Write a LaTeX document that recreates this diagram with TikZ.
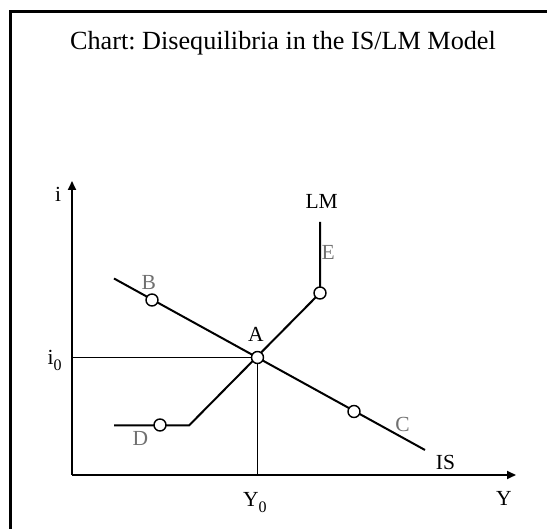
\documentclass[tikz,border=0pt]{standalone}
\usepackage{fontspec}
\setmainfont{Liberation Serif}
\usetikzlibrary{arrows.meta,positioning}
\definecolor{ISLMgray}{HTML}{707070}
\newcommand{\lowsub}[1]{\raisebox{-6pt}{\fontsize{16}{18}\selectfont #1}}
\frenchspacing

\tikzset{
  curve/.style={line width=2pt},
  guide/.style={line width=0.9pt},
  axis/.style={line width=1.8pt,-{Triangle[length=9pt,width=8pt]}},
  eqpt/.style={circle,draw,fill=white,line width=1.4pt,minimum size=12pt,inner sep=0pt},
  lbl/.style={inner sep=0pt,anchor=base,font=\fontsize{21.5}{24}\selectfont},
  dlbl/.style={lbl,text=ISLMgray},
}

\begin{document}
\begin{tikzpicture}[x=1pt,y=-1pt]
  \useasboundingbox (0,0) rectangle (547,529);
  % frame
  \draw[line width=2.5pt] (10.5,529) -- (10.5,11.5) -- (547,11.5);
  \node[inner sep=0pt,anchor=base,font=\fontsize{26.2}{30}\selectfont] (title) at (283,49.3) {Chart: Disequilibria in the IS/LM Model};

  % axes
  \coordinate (O) at (72,475);
  \coordinate (itop) at (72,181);
  \coordinate (yend) at (516,475);
  \coordinate (i0pt) at (72,357.5);
  \coordinate (y0pt) at (257.5,475);
  \draw[axis] (O) -- (itop);
  \draw[axis] (O) -- (yend);

  % IS and LM curves
  \coordinate (is1) at (114,278.5);
  \coordinate (is2) at (425,450);
  \coordinate (lm1) at (114,425.5);
  \coordinate (lmk) at (189,425.5);
  \coordinate (lmE) at (320,293);
  \coordinate (lm2) at (320,222);
  \coordinate (eq) at (257.5,357.5);
  \draw[curve] (is1) -- (is2);
  \draw[curve] (lm1) -- (lmk) -- (lmE) -- (lm2);
  \draw[guide] (i0pt) -- (eq) -- (y0pt);

  % points
  \node[eqpt] (A) at (eq) {};
  \node[eqpt] (B) at (152,300) {};
  \node[eqpt] (C) at (354,411.5) {};
  \node[eqpt] (D) at (160,425) {};
  \node[eqpt] (E) at (lmE) {};

  % labels
  \node[lbl] (ilbl) at (58,201.7) {i};
  \node[lbl,anchor=base west] (i0lbl) at (47.5,365) {i\lowsub{0}};
  \node[lbl,anchor=base west] (y0lbl) at (243,507) {Y\lowsub{0}};
  \node[lbl] (ylbl) at (504,506) {Y};
  \node[lbl] (albl) at (256,341.3) {A};
  \node[lbl] (lmlbl) at (321.7,208.3) {LM};
  \node[lbl] (islbl) at (445.5,470) {IS};
  \node[dlbl] (blbl) at (148.8,290) {B};
  \node[dlbl] (clbl) at (402.5,432) {C};
  \node[dlbl] (dlbl) at (140.5,446) {D};
  \node[dlbl] (elbl) at (328.3,260) {E};
\end{tikzpicture}
\end{document}
